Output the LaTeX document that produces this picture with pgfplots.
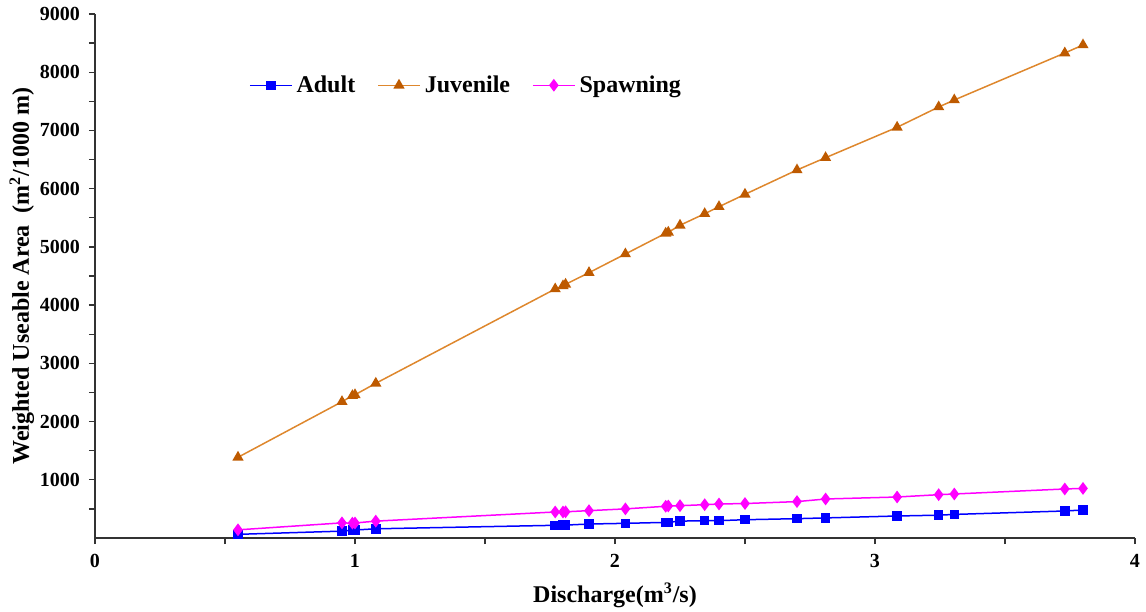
\documentclass[border=0pt]{standalone}
\usepackage{fontspec}
\setmainfont{Liberation Serif}
\usepackage{pgfplots}
\pgfplotsset{compat=1.18}
\definecolor{adultc}{RGB}{0,0,255}
\definecolor{juvl}{RGB}{222,135,45}
\definecolor{juvm}{RGB}{190,90,0}
\definecolor{spawnc}{RGB}{255,0,255}
\begin{document}
\begin{tikzpicture}
\begin{axis}[
  name=ax,
  at={(0,0)}, anchor=south west,
  scale only axis,
  width=520pt, height=262pt,
  xmin=0, xmax=4, ymin=0, ymax=9000,
  axis lines=left,
  axis line style={-, line width=0.8pt, black!80},
  xtick={0,1,2,3,4},
  ytick={1000,2000,3000,4000,5000,6000,7000,8000,9000},
  minor xtick={0.5,1.5,2.5,3.5},
  minor ytick={500,1500,2500,3500,4500,5500,6500,7500,8500},
  tick align=outside,
  major tick length=3pt,
  minor tick length=3pt,
  tick style={black!80, line width=0.7pt},
  /pgf/number format/assume math mode=true,
  /pgf/number format/1000 sep={},
  ticklabel style={font=\bfseries\fontsize{10}{12}\selectfont},
  xticklabel style={yshift=-1.5pt},
  yticklabel style={xshift=-1pt},
  xlabel={\bfseries Discharge(m\textsuperscript{3}/s)},
  ylabel={\bfseries Weighted Useable Area\ \ (m\textsuperscript{2}/1000 m)},
  label style={font=\bfseries\fontsize{12}{14}\selectfont},
  xlabel style={yshift=-1pt},
  ylabel style={yshift=-4pt},
  legend columns=3,
  legend style={draw=none, fill=none, at={(rel axis cs:0.142,0.864)}, anchor=west,
    font=\bfseries\fontsize{12}{14}\selectfont,
    /tikz/every even column/.append style={column sep=9pt}},
  legend image code/.code={\draw[mark repeat=2,mark phase=2] plot coordinates {(0pt,0pt) (10.5pt,0pt) (21pt,0pt)};},
]
\addplot[adultc, line width=0.75pt, mark=square*, mark size=2pt, mark options={solid, fill=adultc}] coordinates {
(0.55,63) (0.95,118) (0.99,135) (1.00,137) (1.08,158) (1.77,218) (1.80,220) (1.81,222) (1.90,240) (2.04,252)
(2.195,268) (2.205,270) (2.25,290) (2.345,297) (2.40,298) (2.50,314) (2.70,332) (2.81,345) (3.085,378)
(3.245,392) (3.305,405) (3.73,464) (3.80,481)
};
\addlegendentry{Adult}
\addplot[juvl, line width=0.75pt, mark=triangle*, mark size=2.5pt, mark options={solid, fill=juvm, draw=juvm}] coordinates {
(0.55,1386) (0.95,2341) (0.99,2444) (1.00,2460) (1.08,2657) (1.77,4277) (1.80,4330) (1.81,4357) (1.90,4557) (2.04,4878)
(2.195,5234) (2.205,5251) (2.25,5371) (2.345,5570) (2.40,5690) (2.50,5903) (2.70,6321) (2.81,6532) (3.085,7054)
(3.245,7403) (3.305,7523) (3.73,8330) (3.80,8468)
};
\addlegendentry{Juvenile}
\addplot[spawnc, line width=0.75pt, mark=diamond*, mark size=2.6pt, mark options={solid, fill=spawnc}] coordinates {
(0.55,140) (0.95,260) (0.99,255) (1.00,258) (1.08,290) (1.77,447) (1.80,447) (1.81,450) (1.90,470) (2.04,500)
(2.195,545) (2.205,550) (2.25,555) (2.345,572) (2.40,584) (2.50,592) (2.70,625) (2.81,670) (3.085,704)
(3.245,744) (3.305,756) (3.73,842) (3.80,852)
};
\addlegendentry{Spawning}
\end{axis}
\pgfresetboundingbox
\path[use as bounding box] (-47.5pt,-36.5pt) rectangle (525.5pt,269pt);
\end{tikzpicture}
\end{document}
